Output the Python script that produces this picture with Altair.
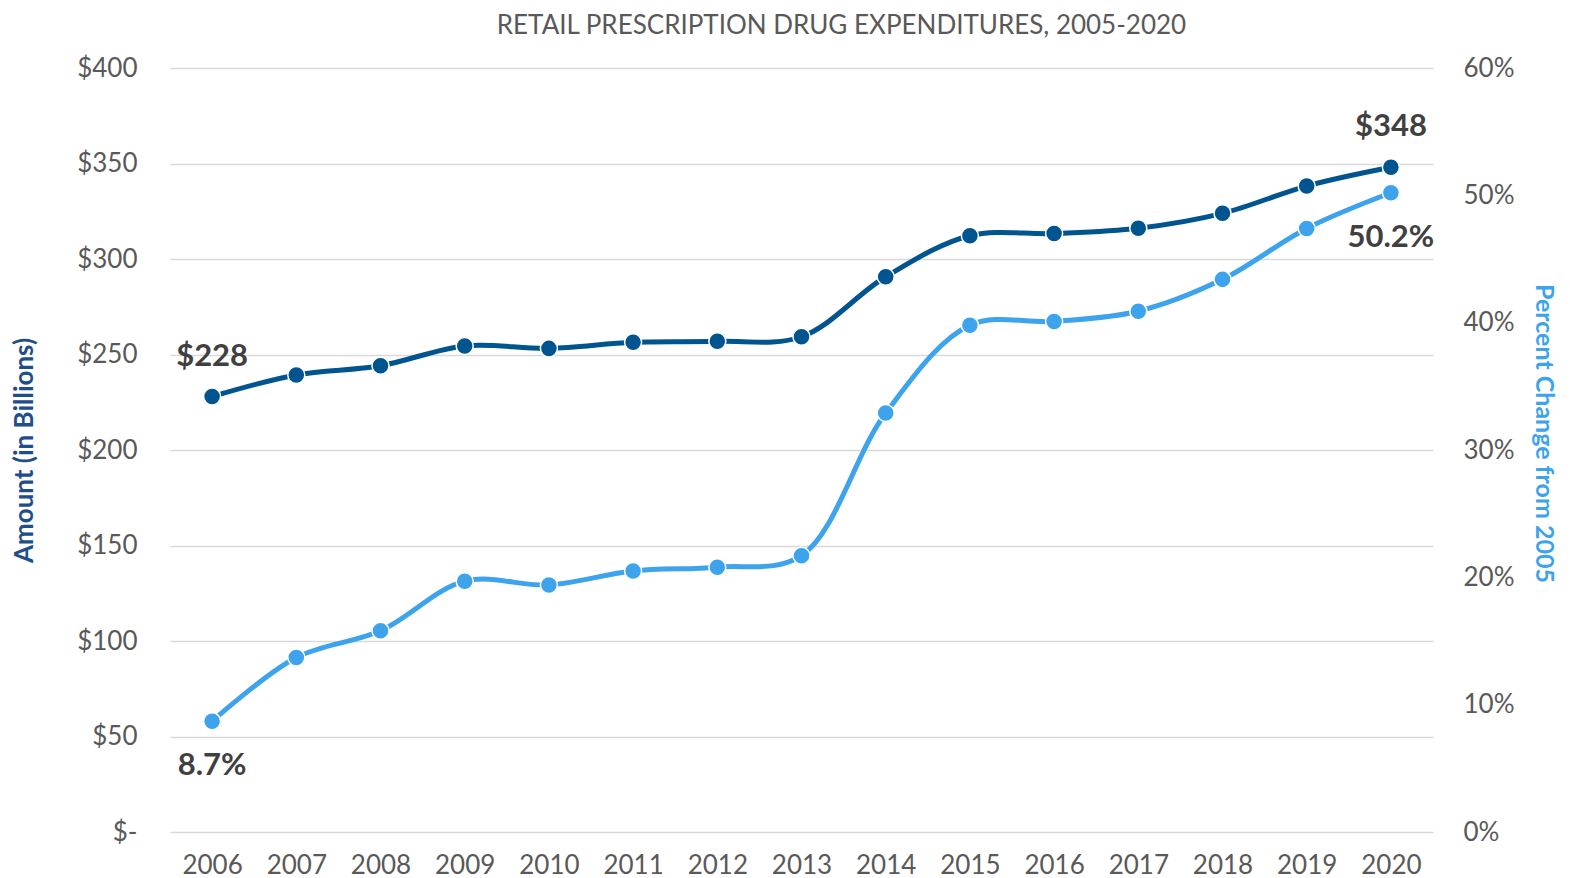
import altair as alt
import pandas as pd

years = ["2006", "2007", "2008", "2009", "2010", "2011", "2012", "2013",
         "2014", "2015", "2016", "2017", "2018", "2019", "2020"]
amount = [228, 239.3, 244.1, 254.5, 253.2, 256.4, 256.9, 259.3,
          290.7, 312.2, 313.3, 316.1, 323.9, 338.2, 348]
pct_change = [8.7, 13.7, 15.8, 19.7, 19.4, 20.5, 20.8, 21.7,
              32.9, 39.8, 40.1, 40.9, 43.4, 47.4, 50.2]
amount_labels = ["$228", "", "", "", "", "", "", "", "", "", "", "", "", "", "$348"]
pct_labels = ["8.7%", "", "", "", "", "", "", "", "", "", "", "", "", "", "50.2%"]

df = pd.DataFrame({
    "year": years,
    "amount": amount,
    "pct": pct_change,
    "alab": amount_labels,
    "plab": pct_labels,
})

FONT = "Lato"
DARK = "#00548F"
LIGHT = "#3DA3EC"
GRAY = "#595959"
ANNOT = "#404040"

x_enc = alt.X(
    "year:O",
    scale=alt.Scale(type="point", padding=0.5),
    axis=alt.Axis(title=None, labelAngle=0, labelFontSize=26, labelFont=FONT,
                  labelColor=GRAY, labelPadding=20, ticks=False, domain=False,
                  grid=False),
)

left_axis = alt.Axis(
    values=[0, 50, 100, 150, 200, 250, 300, 350, 400],
    labelExpr="datum.value == 0 ? '$-' : '$' + datum.value",
    labelFontSize=26, labelFont=FONT, labelColor=GRAY, labelPadding=33,
    ticks=False, domain=False, grid=True, gridColor="#D9D9D9", gridWidth=1.5,
    title="Amount (in Billions)", titleFont=FONT, titleFontSize=26,
    titleFontWeight="bold", titleColor="#1F4E8C",
    titleX=-146, titleY=382, titleAlign="center", titleBaseline="middle",
)
right_axis = alt.Axis(
    orient="right",
    values=[0, 10, 20, 30, 40, 50, 60],
    labelExpr="datum.value + '%'",
    labelFontSize=26, labelFont=FONT, labelColor=GRAY, labelPadding=30,
    ticks=False, domain=False, grid=False,
    title="Percent Change from 2005", titleFont=FONT, titleFontSize=25,
    titleFontWeight="bold", titleColor=LIGHT,
    titleX=110, titleY=365, titleAlign="center", titleBaseline="middle",
)

y_left = alt.Y("amount:Q", scale=alt.Scale(domain=[0, 400], nice=False), axis=left_axis)
y_right = alt.Y("pct:Q", scale=alt.Scale(domain=[0, 60], nice=False), axis=right_axis)

base = alt.Chart(df)

dark_line = base.mark_line(color=DARK, strokeWidth=5, interpolate="catmull-rom").encode(x=x_enc, y=y_left)
dark_pts = base.mark_circle(color=DARK, size=290, opacity=1, stroke="white", strokeWidth=1.5).encode(x=x_enc, y=y_left)
dark_txt = base.mark_text(font=FONT, fontSize=31, fontWeight="bold", color=ANNOT,
                          baseline="alphabetic", align="center", dy=-31).encode(
    x=x_enc, y=y_left, text="alab:N")
dark = alt.layer(dark_line, dark_pts, dark_txt)

light_line = base.mark_line(color=LIGHT, strokeWidth=5, interpolate="catmull-rom").encode(x=x_enc, y=y_right)
light_pts = base.mark_circle(color=LIGHT, size=290, opacity=1, stroke="white", strokeWidth=1.5).encode(x=x_enc, y=y_right)
light_txt = base.mark_text(font=FONT, fontSize=31, fontWeight="bold", color=ANNOT,
                           baseline="alphabetic", align="center", dy=54).encode(
    x=x_enc, y=y_right, text="plab:N")
light = alt.layer(light_line, light_pts, light_txt)

chart = alt.layer(dark, light).resolve_scale(y="independent").properties(
    width=1263,
    height=764,
    autosize=alt.AutoSizeParams(type="none"),
    padding={"left": 162, "top": 60, "right": 129, "bottom": 46},
    title=alt.TitleParams(
        "RETAIL PRESCRIPTION DRUG EXPENDITURES, 2005-2020",
        font=FONT, fontSize=26, fontWeight="normal", color=GRAY,
        anchor="middle", frame="group", dx=40, offset=16,
    ),
).configure_view(stroke=None)

chart.save("out.html", embed_options={"renderer": "svg", "actions": False})
